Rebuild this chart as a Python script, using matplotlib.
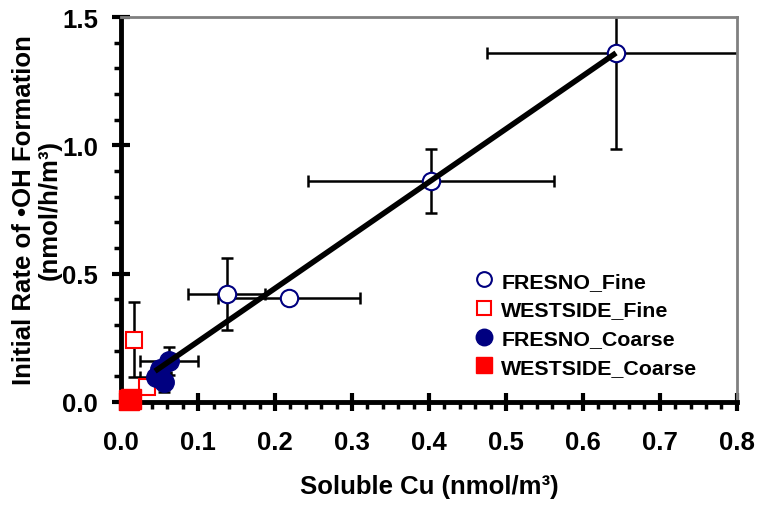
import numpy as np
import matplotlib
matplotlib.use('Agg')
import matplotlib.pyplot as plt
from matplotlib.ticker import MultipleLocator

# FRESNO fine (open navy circles)
fresno_fine_x = [0.643, 0.403, 0.137, 0.218]
fresno_fine_y = [1.36, 0.862, 0.420, 0.405]
fresno_fine_xerr = [0.167, 0.160, 0.050, 0.092]
fresno_fine_yerr = [0.375, 0.125, 0.140, 0.0]

# WESTSIDE fine (open red squares)
westside_fine_x = [0.017, 0.033]
westside_fine_y = [0.242, 0.058]
westside_fine_yerr = [0.146, 0.0]

# FRESNO coarse (filled navy circles)
fresno_coarse_x = [0.062, 0.050, 0.045, 0.056]
fresno_coarse_y = [0.160, 0.128, 0.097, 0.076]
fresno_coarse_xerr = [0.038, 0.0, 0.020, 0.0]
fresno_coarse_yerr = [0.055, 0.0, 0.0, 0.037]

# WESTSIDE coarse (filled red squares)
westside_coarse_x = [0.010, 0.013]
westside_coarse_y = [0.008, 0.010]

# linear fit through the FRESNO data
fit_slope = 2.07
fit_intercept = 0.029
fit_range = [0.044, 0.643]

NAVY = '#000080'
RED = '#FF0000'

plt.rcParams['font.family'] = ['Liberation Sans', 'DejaVu Sans']
plt.rcParams['font.weight'] = 'bold'

fig = plt.figure(figsize=(7.62, 5.06), dpi=100)
ax = fig.add_axes([0.159, 0.2036, 0.808, 0.7608])

eb = dict(fmt='none', ecolor='black', elinewidth=1.8, capsize=4, capthick=1.8, zorder=2)
ax.errorbar(fresno_fine_x, fresno_fine_y, xerr=fresno_fine_xerr, yerr=fresno_fine_yerr, **eb)
ax.errorbar(westside_fine_x, westside_fine_y, yerr=westside_fine_yerr, **eb)
ax.errorbar(fresno_coarse_x, fresno_coarse_y, xerr=fresno_coarse_xerr, yerr=fresno_coarse_yerr, **eb)

ax.plot(fresno_fine_x, fresno_fine_y, 'o', ms=12.5, mfc='white', mec=NAVY, mew=1.5,
        ls='none', zorder=3, label='FRESNO_Fine')
ax.plot(westside_fine_x, westside_fine_y, 's', ms=11.5, mfc='white', mec=RED, mew=1.5,
        ls='none', zorder=3, label='WESTSIDE_Fine')
ax.plot(fresno_coarse_x, fresno_coarse_y, 'o', ms=14, mfc=NAVY, mec=NAVY,
        ls='none', zorder=3, label='FRESNO_Coarse')
ax.plot(westside_coarse_x, westside_coarse_y, 's', ms=14, mfc=RED, mec=RED,
        ls='none', zorder=4, clip_on=False, label='WESTSIDE_Coarse')

fx = np.array(fit_range)
ax.plot(fx, fit_slope * fx + fit_intercept, color='black', lw=4, zorder=5,
        solid_capstyle='butt')

ax.set_xlim(0, 0.8)
ax.set_ylim(0, 1.5)
ax.xaxis.set_major_locator(MultipleLocator(0.1))
ax.xaxis.set_minor_locator(MultipleLocator(0.02))
ax.yaxis.set_major_locator(MultipleLocator(0.5))
ax.yaxis.set_minor_locator(MultipleLocator(0.1))
ax.xaxis.set_major_formatter(plt.FormatStrFormatter('%.1f'))
ax.yaxis.set_major_formatter(plt.FormatStrFormatter('%.1f'))

for s in ['left', 'bottom']:
    ax.spines[s].set_linewidth(3.5)
    ax.spines[s].set_color('black')
for s in ['top', 'right']:
    ax.spines[s].set_linewidth(2)
    ax.spines[s].set_color('#808080')

ax.tick_params(which='major', direction='inout', length=13, width=3, labelsize=18.5)
ax.tick_params(which='minor', direction='out', length=5, width=2.5)
ax.tick_params(top=False, right=False, which='both')
ax.tick_params(axis='x', which='major', pad=14)
ax.tick_params(axis='y', which='major', pad=10)

ax.set_xlabel('Soluble Cu (nmol/m³)', fontsize=18.5, fontweight='bold', labelpad=14)
ax.set_ylabel('Initial Rate of •OH Formation\n(nmol/h/m³)', fontsize=18.5,
              fontweight='bold', labelpad=0, linespacing=1.1)

leg = ax.legend(loc='upper left', bbox_to_anchor=(0.568, 0.338), frameon=False,
                fontsize=15.4, handletextpad=0.23, labelspacing=0.45,
                handlelength=1.2, markerscale=0.85, borderpad=0, borderaxespad=0)

fig.savefig('out.png', dpi=100)
